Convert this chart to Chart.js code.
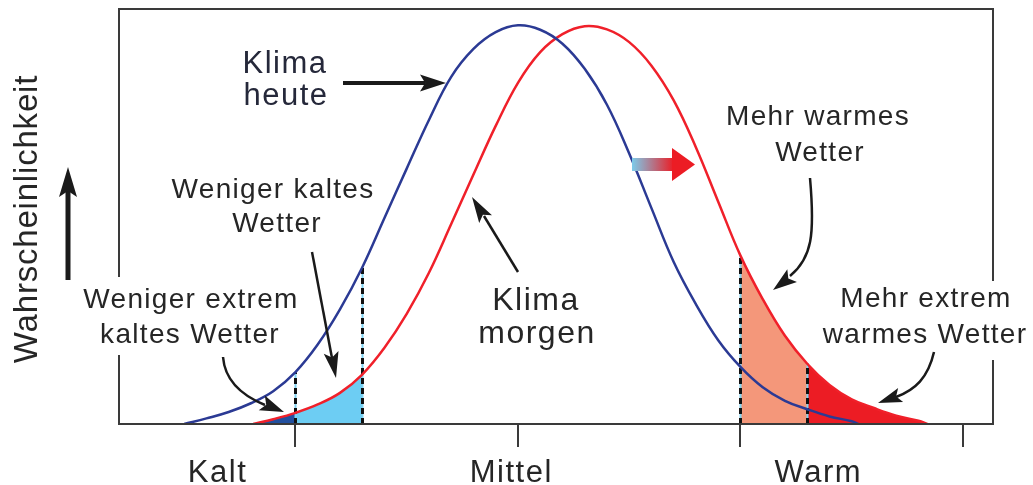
<!DOCTYPE html>
<html><head><meta charset="utf-8">
<script src="https://cdn.jsdelivr.net/npm/chart.js@4/dist/chart.umd.min.js"></script>
<style>html,body{margin:0;padding:0;background:#fff;overflow:hidden}</style>
</head><body>
<canvas id="c" width="1033" height="485"></canvas>
<script>
// ---------- data ----------
const categories = ['Kalt', 'Mittel', 'Warm'];
const tickValues = [-10, 0, 10, 20];
const yTitle = 'Wahrscheinlichkeit';

// Klima heute (blue)
const blueX = [-15,-14,-13,-12,-11,-10,-9,-8,-7,-6,-5,-4,-3,-2,-1,0,1,2,3,4,5,6,7,8,9,10,11,12,13,14,15,15.3];
const blueY = [0,0.014,0.030,0.052,0.082,0.130,0.199,0.287,0.392,0.516,0.640,0.762,0.870,0.940,0.982,0.999,0.988,0.953,0.890,0.800,0.678,0.541,0.406,0.300,0.210,0.143,0.092,0.058,0.037,0.019,0.007,0];

// Klima morgen (red)
const redX = [-11.9,-11,-10,-9,-8,-7,-6,-5,-4,-3,-2,-1,0,1,2,3,4,5,6,7,8,9,10,11,12,13,14,15,16,17,18,18.4];
const redY = [0,0.012,0.028,0.049,0.078,0.124,0.191,0.276,0.379,0.501,0.625,0.747,0.855,0.932,0.977,0.997,0.989,0.957,0.898,0.811,0.693,0.557,0.422,0.313,0.221,0.151,0.098,0.062,0.040,0.021,0.008,0];

// shaded bands under the red curve
const bandFrom = [-12, -10, 10, 13];
const bandTo   = [-10, -7, 13, 19];

// dashed separators
const dashX   = [-10, -7, 10, 13];
const dashTop = [0.130, 0.392, 0.422, 0.151];

// ---------- styles / layout ----------
const bandColors = ['#22509f', '#6dcdf3', '#f4977a', '#ec1c24'];
const BLUE = '#2b3a94', RED = '#f0202a', INK = '#262626';
const FONT = '"Liberation Sans", Arial, Helvetica, sans-serif';
const catPos = [-13.5, -0.3, 13.5];

const texts = [
  {t:'Klima', x:285, y:73, s:31, c:'#25283a'},
  {t:'heute', x:286, y:105, s:31, c:'#25283a'},
  {t:'Weniger kaltes', x:273, y:198, s:28},
  {t:'Wetter', x:277, y:232, s:28},
  {t:'Weniger extrem', x:191, y:308, s:28},
  {t:'kaltes Wetter', x:190, y:343, s:28},
  {t:'Klima', x:536, y:310, s:32},
  {t:'morgen', x:537, y:343, s:32},
  {t:'Mehr warmes', x:818, y:125, s:28},
  {t:'Wetter', x:820, y:161, s:28},
  {t:'Mehr extrem', x:926, y:307, s:28},
  {t:'warmes Wetter', x:925, y:343, s:28}
];

function pts(xs, ys){ return xs.map((x,i)=>({x:x, y:ys[i]})); }

function bandColor(x){
  for (let i=0;i<bandFrom.length;i++){
    if (x >= bandFrom[i] && x < bandTo[i]) return bandColors[i];
  }
  return 'rgba(0,0,0,0)';
}

function head(ctx, tx, ty, fx, fy, len, w){
  const dx = tx-fx, dy = ty-fy, L = Math.hypot(dx,dy);
  const ux = dx/L, uy = dy/L, nx = -uy, ny = ux;
  const bx = tx-ux*len, by = ty-uy*len;
  ctx.beginPath();
  ctx.moveTo(tx,ty);
  ctx.lineTo(bx+nx*w/2, by+ny*w/2);
  ctx.lineTo(tx-ux*len*0.8, ty-uy*len*0.8);
  ctx.lineTo(bx-nx*w/2, by-ny*w/2);
  ctx.closePath();
  ctx.fill();
}

const deco = {
  id:'deco',
  beforeDatasetsDraw(chart){
    const {ctx, chartArea:a} = chart;
    ctx.save();
    ctx.strokeStyle = '#3a3a3a'; ctx.lineWidth = 2;
    ctx.beginPath();
    ctx.moveTo(a.left, 277); ctx.lineTo(a.left, a.top); ctx.lineTo(a.right, a.top); ctx.lineTo(a.right, 281);
    ctx.moveTo(a.left, 355); ctx.lineTo(a.left, a.bottom);
    ctx.moveTo(a.right, 360); ctx.lineTo(a.right, a.bottom);
    ctx.stroke();
    ctx.restore();
  },
  afterDatasetDraw(chart, args){
    if (args.index !== 0) return;
    const {ctx} = chart; const xs = chart.scales.x, ys = chart.scales.y;
    ctx.save();
    dashX.forEach((v,i)=>{
      const px = Math.round(xs.getPixelForValue(v))+0.5;
      const y0 = ys.getPixelForValue(0), y1 = ys.getPixelForValue(dashTop[i]);
      ctx.setLineDash([]); ctx.strokeStyle = '#7fd3f2'; ctx.lineWidth = 2;
      ctx.beginPath(); ctx.moveTo(px,y0); ctx.lineTo(px,y1); ctx.stroke();
      ctx.setLineDash([6,4]); ctx.strokeStyle = '#111'; ctx.lineWidth = 3;
      ctx.beginPath(); ctx.moveTo(px,y0); ctx.lineTo(px,y1); ctx.stroke();
    });
    ctx.restore();
  },
  afterDatasetsDraw(chart){
    const {ctx, chartArea:a} = chart; const xs = chart.scales.x, ys = chart.scales.y;
    ctx.save();
    // baseline and ticks
    ctx.strokeStyle = '#3a3a3a'; ctx.lineWidth = 2;
    ctx.beginPath(); ctx.moveTo(a.left-1, a.bottom); ctx.lineTo(a.right+1, a.bottom); ctx.stroke();
    tickValues.forEach(v=>{
      const px = Math.round(xs.getPixelForValue(v));
      ctx.beginPath(); ctx.moveTo(px, a.bottom); ctx.lineTo(px, a.bottom+23); ctx.stroke();
    });
    // category labels
    ctx.fillStyle = INK; ctx.textAlign = 'center'; ctx.textBaseline = 'alphabetic';
    ctx.font = '31px ' + FONT; ctx.letterSpacing = '1.5px';
    categories.forEach((c,i)=> ctx.fillText(c, xs.getPixelForValue(catPos[i]), 482));
    // y title
    ctx.save(); ctx.translate(37, 219); ctx.rotate(-Math.PI/2);
    ctx.font = '33px ' + FONT; ctx.letterSpacing = '0.8px';
    ctx.fillText(yTitle, 0, 0); ctx.restore();
    // annotation texts
    texts.forEach(o=>{
      ctx.font = o.s + 'px ' + FONT; ctx.letterSpacing = (o.s>=31?'1.5px':'1.3px');
      ctx.fillStyle = o.c || INK;
      ctx.fillText(o.t, o.x, o.y);
    });
    ctx.letterSpacing = '0px';
    // arrows
    ctx.strokeStyle = '#1a1a1a'; ctx.fillStyle = '#1a1a1a'; ctx.lineCap = 'butt';
    // up arrow
    ctx.lineWidth = 5;
    ctx.beginPath(); ctx.moveTo(68,280); ctx.lineTo(68,190); ctx.stroke();
    head(ctx, 68,167, 68,280, 30, 18);
    // Klima heute
    ctx.lineWidth = 4;
    ctx.beginPath(); ctx.moveTo(343,83); ctx.lineTo(425,83); ctx.stroke();
    head(ctx, 446,83, 343,83, 26, 17);
    // Weniger kaltes Wetter
    ctx.lineWidth = 2.5;
    ctx.beginPath(); ctx.moveTo(312,252); ctx.lineTo(332,358); ctx.stroke();
    head(ctx, 336,378, 312,252, 26, 15);
    // Weniger extrem kaltes Wetter
    ctx.beginPath(); ctx.moveTo(223,357); ctx.bezierCurveTo(225,382, 243,396, 265,405); ctx.stroke();
    head(ctx, 284,412, 245,396, 24, 16);
    // Klima morgen
    ctx.beginPath(); ctx.moveTo(518,272); ctx.lineTo(484,216); ctx.stroke();
    head(ctx, 472,197, 518,272, 26, 15);
    // Mehr warmes Wetter
    ctx.beginPath(); ctx.moveTo(810,178); ctx.bezierCurveTo(815,235, 812,258, 790,276); ctx.stroke();
    head(ctx, 773,290, 810,262, 24, 16);
    // Mehr extrem warmes Wetter
    ctx.beginPath(); ctx.moveTo(934,352); ctx.bezierCurveTo(928,378, 915,390, 896,397); ctx.stroke();
    head(ctx, 878,403, 912,391, 24, 15);
    // gradient shift arrow
    const g = ctx.createLinearGradient(632,0,674,0);
    g.addColorStop(0,'#7ccbea'); g.addColorStop(1,'#ec1c24');
    ctx.fillStyle = g; ctx.fillRect(632,158,42,13);
    ctx.fillStyle = '#ec1c24';
    ctx.beginPath(); ctx.moveTo(672,148); ctx.lineTo(695,164.5); ctx.lineTo(672,181); ctx.closePath(); ctx.fill();
    ctx.restore();
  }
};

new Chart(document.getElementById('c'), {
  type: 'line',
  data: {
    datasets: [
      { label:'bands', data: pts(redX, redY), fill:'origin', borderWidth:0, pointRadius:0,
        backgroundColor:'rgba(0,0,0,0)', tension:0.4, order:3,
        segment:{ backgroundColor: c => bandColor(c.p0.parsed.x) } },
      { label:'Klima morgen', data: pts(redX, redY), fill:false, borderColor:RED, borderWidth:2.5,
        pointRadius:0, tension:0.4, order:2 },
      { label:'Klima heute', data: pts(blueX, blueY), fill:false, borderColor:BLUE, borderWidth:2.5,
        pointRadius:0, tension:0.4, order:1 }
    ]
  },
  options: {
    responsive:false, animation:false, devicePixelRatio:1,
    layout:{ padding:{ left:119, right:40, top:9, bottom:61 } },
    scales:{
      x:{ type:'linear', min:-17.93, max:21.35, display:false },
      y:{ min:0, max:1.04, display:false }
    },
    plugins:{ legend:{display:false}, tooltip:{enabled:false} }
  },
  plugins:[deco]
});
</script>
</body></html>
